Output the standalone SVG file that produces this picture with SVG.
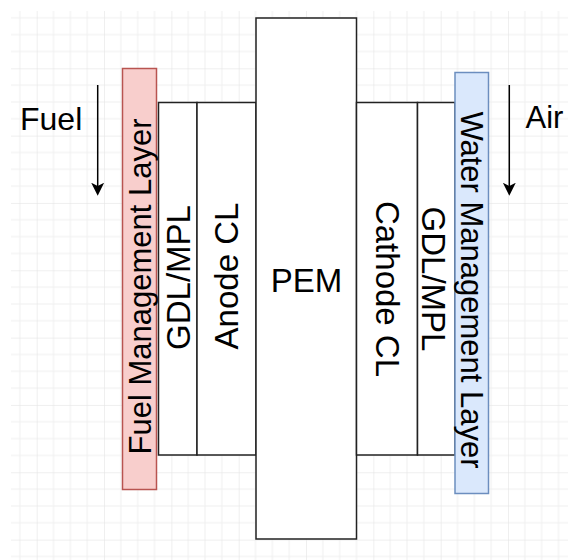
<svg xmlns="http://www.w3.org/2000/svg" width="568" height="560" viewBox="0 0 568 560">
  <defs>
    <pattern id="grid" patternUnits="userSpaceOnUse" x="36.7" y="68.3" width="67.33" height="67.33">
      <rect x="16.33" y="0" width="1" height="67.33" fill="#efefef"/>
      <rect x="33.17" y="0" width="1" height="67.33" fill="#efefef"/>
      <rect x="50" y="0" width="1" height="67.33" fill="#efefef"/>
      <rect x="0" y="16.33" width="67.33" height="1" fill="#efefef"/>
      <rect x="0" y="33.17" width="67.33" height="1" fill="#efefef"/>
      <rect x="0" y="50" width="67.33" height="1" fill="#efefef"/>
      <rect x="-0.5" y="0" width="1" height="67.33" fill="#e0e0e0"/>
      <rect x="0" y="-0.5" width="67.33" height="1" fill="#e0e0e0"/>
    </pattern>
    <marker id="arrow" markerUnits="userSpaceOnUse" viewBox="0 0 13 13" refX="5.3" refY="6.5" markerWidth="13" markerHeight="13" orient="auto">
      <path d="M0,0 L13,6.5 L0,13 L3.3,6.5 Z" fill="#000"/>
    </marker>
    <style>
      .box { fill: #ffffff; stroke: #222222; stroke-width: 1.5; }
      .fuel { fill: #f8cecc; stroke: #b85450; stroke-width: 1.5; }
      .water { fill: #dae8fc; stroke: #6c8ebf; stroke-width: 1.5; }
      .lbl { font-family: "Liberation Sans", Arial, Helvetica, sans-serif; fill: #000000; }
      .conn { stroke: #000000; stroke-width: 1.5; fill: none; marker-end: url(#arrow); }
    </style>
  </defs>

  <rect x="0" y="0" width="568" height="560" fill="#ffffff"/>
  <rect x="11" y="11" width="557" height="549" fill="url(#grid)"/>

  <g id="fuel-management-layer">
    <rect class="fuel" x="122.5" y="68.5" width="34" height="421"/>
    <text class="lbl" font-size="31" text-anchor="middle" transform="translate(151,286.5) rotate(-90)">Fuel Management Layer</text>
  </g>

  <g id="gdl-mpl-anode">
    <rect class="box" x="158.5" y="102.5" width="38.5" height="352.5"/>
    <text class="lbl" font-size="33" text-anchor="middle" transform="translate(190,277.5) rotate(-90)">GDL/MPL</text>
  </g>

  <g id="anode-cl">
    <rect class="box" x="197" y="102.5" width="59" height="352.5"/>
    <text class="lbl" font-size="33" text-anchor="middle" transform="translate(238,276) rotate(-90)">Anode CL</text>
  </g>

  <g id="pem">
    <rect class="box" x="256" y="18" width="100.5" height="521"/>
    <text class="lbl" font-size="33" text-anchor="middle" x="306.5" y="291.5">PEM</text>
  </g>

  <g id="cathode-cl">
    <rect class="box" x="356.5" y="102.5" width="61" height="352.5"/>
    <text class="lbl" font-size="33" text-anchor="middle" transform="translate(375.5,289) rotate(90)">Cathode CL</text>
  </g>

  <g id="gdl-mpl-cathode">
    <rect class="box" x="417.5" y="102.5" width="37.5" height="352.5"/>
    <text class="lbl" font-size="33" text-anchor="middle" transform="translate(421.5,279) rotate(90)">GDL/MPL</text>
  </g>

  <g id="water-management-layer">
    <rect class="water" x="455" y="72.5" width="33.5" height="421"/>
    <text class="lbl" font-size="31" text-anchor="middle" transform="translate(461,290) rotate(90)">Water Management Layer</text>
  </g>

  <g id="fuel-label">
    <text class="lbl" font-size="32" x="20" y="130">Fuel</text>
  </g>

  <g id="air-label">
    <text class="lbl" font-size="31" x="525.5" y="128">Air</text>
  </g>

  <g id="connectors">
    <line class="conn" x1="97.7" y1="85" x2="97.7" y2="188"/>
    <line class="conn" x1="509.3" y1="85" x2="509.3" y2="188"/>
  </g>
</svg>
